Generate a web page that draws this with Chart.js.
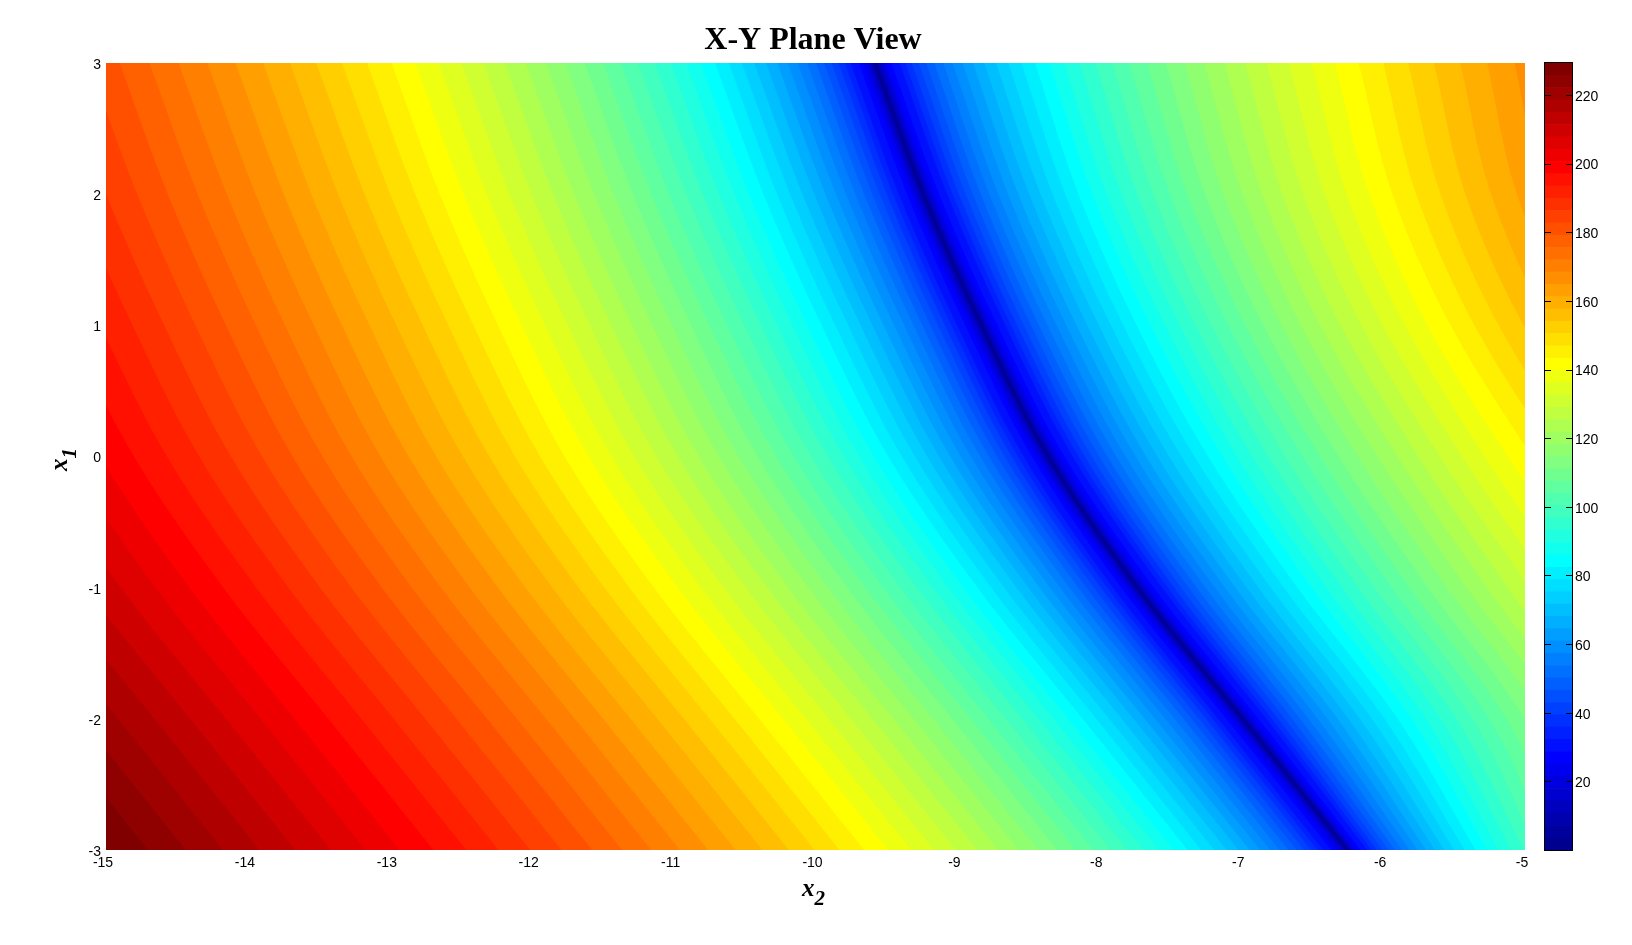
<!DOCTYPE html>
<html>
<head>
<meta charset="utf-8">
<title>X-Y Plane View</title>
<script src="https://cdn.jsdelivr.net/npm/chart.js@4"></script>
<style>
  body { margin: 0; background: #fff; width: 1632px; height: 945px; overflow: hidden; position: relative; }
  canvas { position: absolute; top: 0; }
  .axis-label { position: absolute; font: italic bold 25px "Liberation Serif", serif; color: #000; white-space: nowrap; line-height: 1; }
  .axis-label sub { font-size: 21px; vertical-align: -9px; line-height: 0; }
</style>
</head>
<body>
<canvas id="plane" width="1632" height="945" style="left:0"></canvas>
<canvas id="colorbar" width="92" height="945" style="left:1535px"></canvas>
<div class="axis-label" style="left:802px; top:875px">x<sub>2</sub></div>
<div class="axis-label" style="left:47px; top:447px; transform: rotate(-90deg)">x<sub>1</sub></div>
<script>
// tick labels
var x2Ticks = [-15, -14, -13, -12, -11, -10, -9, -8, -7, -6, -5];
var x1Ticks = [-3, -2, -1, 0, 1, 2, 3];
var colorbarTicks = [20, 40, 60, 80, 100, 120, 140, 160, 180, 200, 220];

var x1Rows = [-3, -2, -1, 0, 1, 2, 3];
var valleyX2 = [-6.25, -6.99, -7.73, -8.36, -8.83, -9.24, -9.58];

// right side bands sit a bit closer to the valley near the bottom
var rightStretch = [0.80, 0.97, 1, 1, 0.97, 0.97, 1];

// distance in x2 from the valley to each filled contour edge
var contourOffsets = [
  0, 0.006, 0.012, 0.022, 0.034, 0.048, 0.064, 0.082, 0.115, 0.173, 0.213, 0.258, 0.307, 0.360, 0.417, 0.479,
  0.545, 0.616, 0.690, 0.769, 0.852, 0.939, 1.031, 1.127, 1.227, 1.331, 1.440, 1.553, 1.670, 1.791, 1.917, 2.047,
  2.181, 2.320, 2.462, 2.609, 2.760, 2.916, 3.076, 3.240, 3.408, 3.581, 3.757, 3.938, 4.124, 4.313, 4.507, 4.705,
  4.908, 5.114, 5.325, 5.540, 5.760, 5.983, 6.211, 6.443, 6.680, 6.920, 7.165, 7.415, 7.668, 7.926, 8.188, 8.454
];
var rightBandCount = 48;

// colorbar cell edges
var levels = [
  0, 3.58, 7.17, 10.75, 14.33, 17.92, 21.5, 25.08, 28.66, 32.25, 35.83, 39.41, 43, 46.58, 50.16, 53.75,
  57.33, 60.91, 64.49, 68.08, 71.66, 75.24, 78.83, 82.41, 85.99, 89.58, 93.16, 96.74, 100.32, 103.91, 107.49, 111.07,
  114.66, 118.24, 121.82, 125.41, 128.99, 132.57, 136.15, 139.74, 143.32, 146.9, 150.49, 154.07, 157.65, 161.24, 164.82, 168.4,
  171.98, 175.57, 179.15, 182.73, 186.32, 189.9, 193.48, 197.07, 200.65, 204.23, 207.81, 211.4, 214.98, 218.56, 222.15, 225.73, 229.31
];

// MATLAB jet colormap, 64 entries
function jetColor(band) {
  var i = band + 1;
  var r = i <= 24 ? 0 : i < 40 ? (i - 24) / 16 : i <= 56 ? 1 : 1 - (i - 56) / 16;
  var g = i <= 8 ? 0 : i < 24 ? (i - 8) / 16 : i <= 40 ? 1 : i <= 56 ? 1 - (i - 40) / 16 : 0;
  var b = i <= 8 ? 0.5 + i / 16 : i <= 24 ? 1 : i < 40 ? 1 - (i - 24) / 16 : 0;
  return 'rgb(' + Math.round(r * 255) + ',' + Math.round(g * 255) + ',' + Math.round(b * 255) + ')';
}

function contourDataset(band, left) {
  return {
    data: x1Rows.map(function (x1, row) {
      var x2 = left
        ? valleyX2[row] - contourOffsets[band]
        : valleyX2[row] + contourOffsets[band] * rightStretch[row];
      return { x: x2, y: x1 };
    }),
    backgroundColor: jetColor(band),
    // 'start'/'end' use the scale's bottom/top even on a horizontal value axis
    fill: { value: left ? -15 : -5 },
    borderWidth: 0,
    pointRadius: 0,
    cubicInterpolationMode: 'monotone'
  };
}

// first dataset is drawn last, so the outermost bands go first
var datasets = [];
for (var band = contourOffsets.length - 1; band >= 1; band--) {
  datasets.push(contourDataset(band, true));
  if (band < rightBandCount) datasets.push(contourDataset(band, false));
}
// lowest band goes under everything, otherwise the valley shows a seam
datasets.push({
  data: x1Rows.map(function (x1) { return { x: -5, y: x1 }; }),
  backgroundColor: jetColor(0),
  fill: { value: -15 },
  borderWidth: 0,
  pointRadius: 0
});

var tickFont = { family: '"Liberation Sans", Arial, sans-serif', size: 14 };

new Chart(document.getElementById('plane'), {
  type: 'line',
  data: { datasets: datasets },
  options: {
    responsive: false,
    animation: false,
    indexAxis: 'y',
    events: [],
    layout: { autoPadding: false, padding: { right: 6 } },
    plugins: {
      legend: { display: false },
      tooltip: { enabled: false },
      title: {
        display: true,
        text: 'X-Y Plane View',
        color: '#000',
        font: { family: '"Liberation Serif", "Times New Roman", serif', size: 32, weight: 'bold', lineHeight: 1.2 },
        padding: { top: 22, bottom: 2.6 }
      }
    },
    scales: {
      x: {
        type: 'linear',
        min: -15,
        max: -5,
        afterBuildTicks: function (scale) { scale.ticks = x2Ticks.map(function (v) { return { value: v }; }); },
        afterFit: function (scale) { scale.height = 95; },
        grid: { display: false, drawTicks: false },
        border: { display: false },
        ticks: { color: '#000', font: tickFont, maxRotation: 0, autoSkip: false, padding: 5, labelOffset: -3 }
      },
      y: {
        type: 'linear',
        min: -3,
        max: 3,
        afterBuildTicks: function (scale) { scale.ticks = x1Ticks.map(function (v) { return { value: v }; }); },
        afterFit: function (scale) { scale.width = 106; },
        grid: { display: false, drawTicks: false },
        border: { display: false },
        ticks: { color: '#000', font: tickFont, autoSkip: false, padding: 5, labelOffset: 2 }
      },
      // empty axis keeps room for the colorbar so the title stays centred
      gutter: {
        type: 'linear',
        position: 'right',
        afterFit: function (scale) { scale.width = 101; },
        grid: { display: false, drawTicks: false },
        border: { display: false },
        ticks: { display: false }
      }
    }
  }
});

// colorbar box and the short inner tick marks on both sides
var colorbarFrame = {
  id: 'colorbarFrame',
  afterDraw: function (chart) {
    var ctx = chart.ctx, area = chart.chartArea, scale = chart.scales.y;
    ctx.save();
    ctx.strokeStyle = '#000';
    ctx.lineWidth = 1;
    ctx.strokeRect(area.left - 0.5, area.top - 0.5, area.right - area.left + 1, area.bottom - area.top + 1);
    colorbarTicks.forEach(function (v) {
      var y = Math.round(scale.getPixelForValue(v)) + 0.5;
      ctx.beginPath();
      ctx.moveTo(area.left, y);
      ctx.lineTo(area.left + 6, y);
      ctx.moveTo(area.right - 6, y);
      ctx.lineTo(area.right, y);
      ctx.stroke();
    });
    ctx.restore();
  }
};

var colorbarDatasets = [];
for (var cell = 0; cell < levels.length - 1; cell++) {
  colorbarDatasets.push({
    data: [[levels[cell], levels[cell + 1]]],
    backgroundColor: jetColor(cell),
    barPercentage: 1,
    categoryPercentage: 1,
    borderWidth: 0,
    grouped: false
  });
}

new Chart(document.getElementById('colorbar'), {
  type: 'bar',
  data: { labels: [''], datasets: colorbarDatasets },
  plugins: [colorbarFrame],
  options: {
    responsive: false,
    animation: false,
    events: [],
    layout: { autoPadding: false, padding: { left: 10, top: 63, bottom: 95 } },
    plugins: { legend: { display: false }, tooltip: { enabled: false } },
    scales: {
      x: { display: false },
      y: {
        type: 'linear',
        position: 'right',
        min: 0,
        max: 229.31,
        afterBuildTicks: function (scale) { scale.ticks = colorbarTicks.map(function (v) { return { value: v }; }); },
        afterFit: function (scale) { scale.width = 55; },
        grid: { display: false, drawTicks: false },
        border: { display: false },
        ticks: { color: '#000', font: tickFont, padding: 3, autoSkip: false, labelOffset: 2 }
      }
    }
  }
});
</script>
</body>
</html>
